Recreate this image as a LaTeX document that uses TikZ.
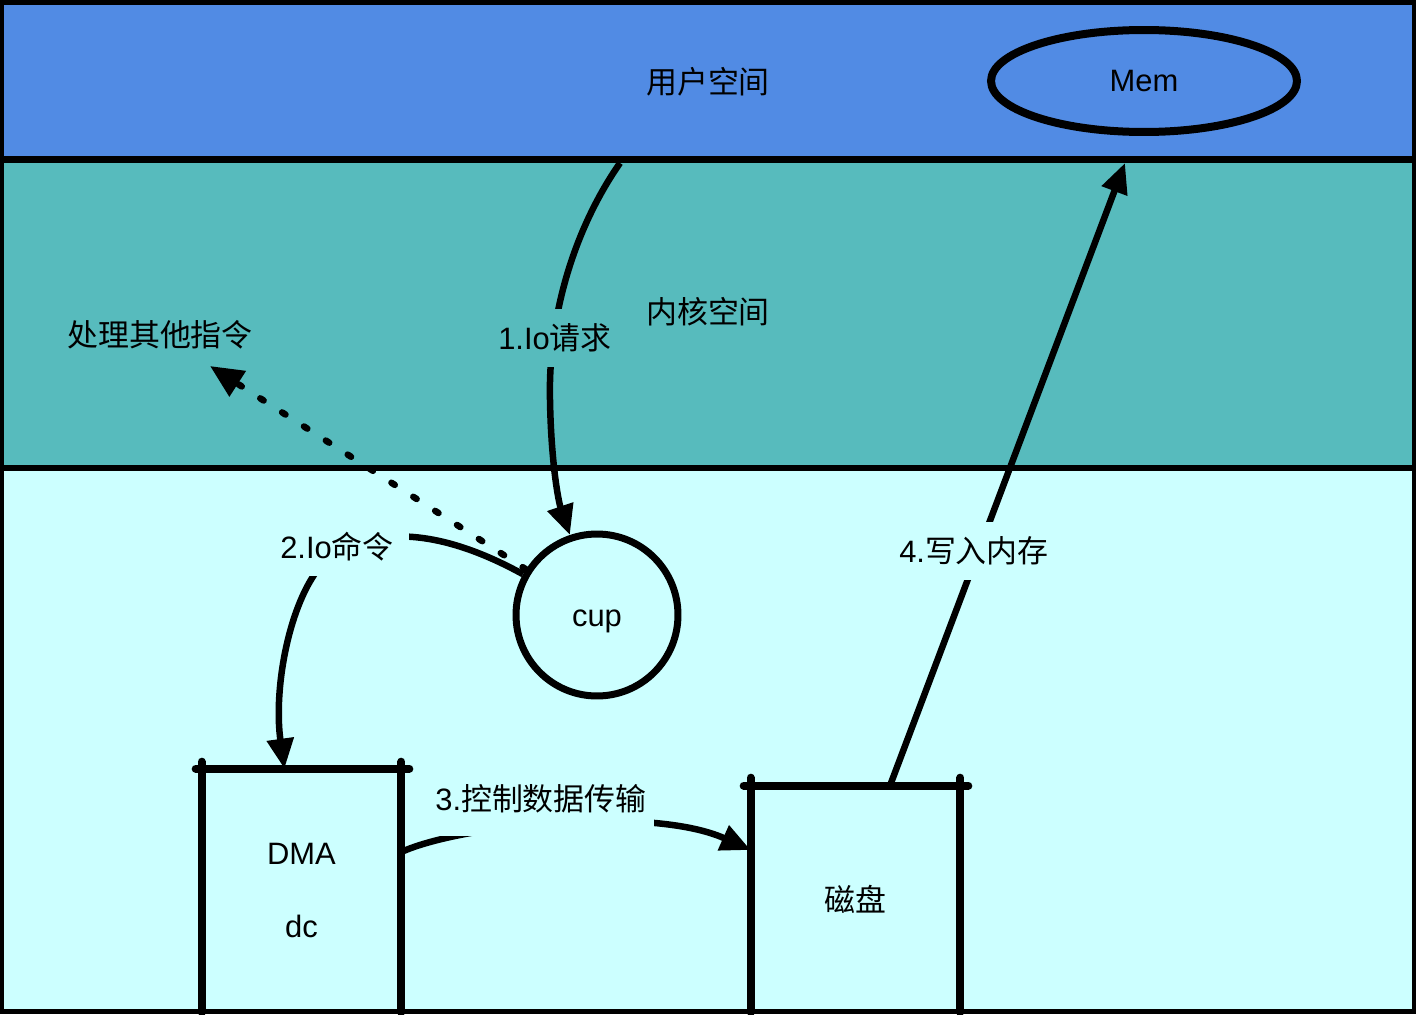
\documentclass[tikz,border=0pt]{standalone}
\usepackage{fontspec}
\setmainfont{Liberation Sans}
\newfontfamily\cjk{Noto Sans CJK SC}
\usetikzlibrary{arrows.meta,shapes.geometric}
\definecolor{userblue}{RGB}{81,139,228}
\definecolor{kernteal}{RGB}{87,187,189}
\definecolor{hwcyan}{RGB}{204,255,255}
\tikzset{
  txt/.style={font=\fontsize{17.6}{21}\selectfont, inner sep=0pt},
  gaplabel/.style={txt, inner sep=0.3cm},
  flow/.style={line width=0.13cm, -{Triangle[length=0.6cm,width=0.52cm]}},
  side/.style={line width=0.16cm, line cap=round},
}

\begin{document}
\begin{tikzpicture}[x=0.02cm,y=-0.02cm]
\useasboundingbox (0,0) rectangle (1416,1014);
% bands
\fill[black] (0,0) rectangle (1416,1014);
\fill[userblue] (4,5) rectangle (1412,156);
\fill[kernteal] (4,163) rectangle (1412,465);
\fill[hwcyan] (4,471) rectangle (1412,1009);

\draw (708,82) node[txt](user) {\cjk 用户空间};
\draw (708,312) node[txt](kern) {\cjk 内核空间};
\draw (1144,81) node[txt,draw,ellipse,line width=0.16cm,minimum width=6.12cm,minimum height=2.04cm](mem) {Mem};
\draw (597,615) node[txt,draw,circle,line width=0.14cm,minimum size=3.24cm,text height=0.6cm,text depth=0.13cm](cup) {cup};
\draw (301.5,890.5) node[txt,minimum width=3.98cm,minimum height=4.86cm,align=center](dma) {DMA\\[0.74cm]dc};
\draw (855.5,899) node[txt,minimum width=4.18cm,minimum height=4.52cm](disk) {\cjk 磁盘};
\draw (160,335) node[txt](other) {\cjk 处理其他指令};
\coordinate (kstart) at (620,163);
\coordinate (otherin) at (210,366);
\coordinate (memin) at (1125,163);

% box sides
\draw[side] ([xshift=-0.12cm]dma.north west) -- ([xshift=0.16cm]dma.north east);
\draw[side] ([yshift=0.14cm]dma.north west) -- (dma.south west);
\draw[side] ([yshift=0.14cm]dma.north east) -- (dma.south east);
\draw[side] ([xshift=-0.14cm]disk.north west) -- ([xshift=0.16cm]disk.north east);
\draw[side] ([yshift=0.16cm]disk.north west) -- (disk.south west);
\draw[side] ([yshift=0.16cm]disk.north east) -- (disk.south east);

% connectors
\draw[flow] (kstart) .. controls (572,232) and (548,320) .. (550,400) .. controls (551,460) and (558,500) .. (cup);
\draw[flow] (cup) .. controls (470,545) and (400,520) .. (340,550) .. controls (295,572) and (272,680) .. (dma);
\draw[flow] ([yshift=0.77cm]dma.east) .. controls (460,825) and (650,805) .. ([yshift=0.98cm]disk.west);
\draw[flow] ([xshift=0.69cm]disk.north) -- (memin);
\draw[line width=0.13cm, line cap=round, dash pattern=on 0.08cm off 0.44cm, -{Triangle[length=0.66cm,width=0.58cm]}] (cup) -- (otherin);

% labels on the connectors
\draw (555,338) node[gaplabel,fill=kernteal](lbl1) {1.Io{\cjk 请求}};
\draw (337,547) node[gaplabel,fill=hwcyan](lbl2) {2.Io{\cjk 命令}};
\draw (541,799) node[gaplabel,inner xsep=0.15cm,inner ysep=0.45cm,fill=hwcyan](lbl3) {3.{\cjk 控制数据传输}};
\draw (974,551) node[gaplabel,fill=hwcyan](lbl4) {4.{\cjk 写入内存}};
\end{tikzpicture}
\end{document}
